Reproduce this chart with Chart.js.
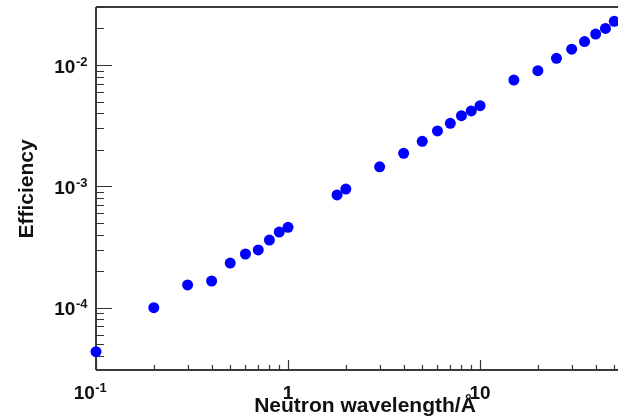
<!DOCTYPE html>
<html><head><meta charset="utf-8">
<script src="https://cdn.jsdelivr.net/npm/chart.js@4/dist/chart.umd.min.js"></script>
<style>html,body{margin:0;padding:0;background:#fff;overflow:hidden}#wrap{width:618px;height:418px;overflow:hidden}</style>
</head><body><div id="wrap"><canvas id="c" width="624" height="418"></canvas></div>
<script>
// ---- data ----
const wavelengths = [0.1, 0.2, 0.3, 0.4, 0.5, 0.6, 0.7, 0.8, 0.9, 1.0, 1.8, 2.0, 3, 4, 5, 6, 7, 8, 9, 10, 15, 20, 25, 30, 35, 40, 45, 50];
const efficiency = [4.34e-5, 1.0e-4, 1.54e-4, 1.66e-4, 2.33e-4, 2.77e-4, 2.99e-4, 3.61e-4, 4.2e-4, 4.6e-4,
  8.5e-4, 9.5e-4, 1.45e-3, 1.87e-3, 2.35e-3, 2.86e-3, 3.31e-3, 3.82e-3, 4.18e-3, 4.62e-3,
  7.52e-3, 8.98e-3, 1.135e-2, 1.35e-2, 1.56e-2, 1.8e-2, 2.0e-2, 2.29e-2];
const xMajorTicks = [0.1, 1, 10];
const xTickLabels = [['10', '-1'], ['1', ''], ['10', '']];
const yMajorTicks = [1e-4, 1e-3, 1e-2];
const yTickLabels = [['10', '-4'], ['10', '-3'], ['10', '-2']];
const xTitle = 'Neutron wavelength/Å';
const yTitle = 'Efficiency';
const xRange = [0.1, 52.6];
const yRange = [3.066e-5, 0.03006];

function minorTicks(lo, hi) {
  const out = [];
  for (let e = Math.floor(Math.log10(lo)); e <= Math.ceil(Math.log10(hi)); e++) {
    for (let m = 2; m <= 9; m++) {
      const v = m * Math.pow(10, e);
      if (v >= lo && v <= hi) out.push(v);
    }
  }
  return out;
}

const FONT = '"Liberation Sans", Arial, Helvetica, sans-serif';

function drawExpLabel(ctx, base, exp, x, yBase, align, bigSize, smallSize) {
  ctx.font = 'bold ' + bigSize + 'px ' + FONT;
  const wb = ctx.measureText(base).width;
  ctx.font = 'bold ' + smallSize + 'px ' + FONT;
  const we = exp ? ctx.measureText(exp).width : 0;
  const total = wb + we;
  let left;
  if (align === 'right') left = x - total;
  else left = x - total / 2;
  ctx.textAlign = 'left';
  ctx.textBaseline = 'alphabetic';
  ctx.font = 'bold ' + bigSize + 'px ' + FONT;
  ctx.fillText(base, left, yBase);
  if (exp) {
    ctx.font = 'bold ' + smallSize + 'px ' + FONT;
    ctx.fillText(exp, left + wb + 0.5, yBase - 7);
  }
}

const rootAxes = {
  id: 'rootAxes',
  beforeDatasetsDraw(chart) {
    const { ctx, chartArea: a, scales } = chart;
    const xs = scales.x, ys = scales.y;
    ctx.save();
    // frame lines
    ctx.strokeStyle = '#3a3a3a';
    ctx.lineWidth = 2;
    ctx.beginPath();
    ctx.moveTo(a.left, a.top); ctx.lineTo(a.right, a.top);
    ctx.moveTo(a.left, a.top); ctx.lineTo(a.left, a.bottom);
    ctx.moveTo(a.left, a.bottom); ctx.lineTo(a.right, a.bottom);
    ctx.stroke();
    // ticks
    ctx.lineWidth = 1.2;
    ctx.strokeStyle = '#333';
    ctx.beginPath();
    yMajorTicks.forEach(v => { const p = Math.round(ys.getPixelForValue(v)) + 0.5; ctx.moveTo(a.left, p); ctx.lineTo(a.left + 16, p); });
    minorTicks(yRange[0], yRange[1]).forEach(v => { const p = Math.round(ys.getPixelForValue(v)) + 0.5; ctx.moveTo(a.left, p); ctx.lineTo(a.left + 8, p); });
    xMajorTicks.forEach(v => { const p = Math.round(xs.getPixelForValue(v)) + 0.5; ctx.moveTo(p, a.bottom); ctx.lineTo(p, a.bottom - 10); });
    minorTicks(xRange[0], xRange[1]).forEach(v => { const p = Math.round(xs.getPixelForValue(v)) + 0.5; ctx.moveTo(p, a.bottom); ctx.lineTo(p, a.bottom - 5); });
    ctx.stroke();
    // tick labels
    ctx.fillStyle = '#111';
    yMajorTicks.forEach((v, i) => {
      const p = ys.getPixelForValue(v);
      drawExpLabel(ctx, yTickLabels[i][0], yTickLabels[i][1], a.left - 9, p + 7.5, 'right', 19, 13);
    });
    xMajorTicks.forEach((v, i) => {
      const p = xs.getPixelForValue(v);
      const shift = xTickLabels[i][1] ? -6 : 0;
      drawExpLabel(ctx, xTickLabels[i][0], xTickLabels[i][1], p + shift, a.bottom + 29, 'center', 19, 13);
    });
    // titles
    ctx.font = 'bold 21px ' + FONT;
    ctx.textAlign = 'center';
    ctx.textBaseline = 'alphabetic';
    ctx.fillText(xTitle, 365, 412);
    ctx.save();
    ctx.translate(33, 189);
    ctx.rotate(-Math.PI / 2);
    ctx.fillText(yTitle, 0, 0);
    ctx.restore();
    ctx.restore();
  }
};

new Chart(document.getElementById('c'), {
  type: 'scatter',
  data: {
    datasets: [{
      data: wavelengths.map((w, i) => ({ x: w, y: efficiency[i] })),
      backgroundColor: '#0000ff',
      borderColor: '#0000ff',
      borderWidth: 0,
      pointRadius: 5.5,
      pointHoverRadius: 5.5,
      clip: false
    }]
  },
  options: {
    responsive: false,
    animation: false,
    devicePixelRatio: 1,
    layout: { padding: { left: 96, top: 7, right: 0, bottom: 48 } },
    plugins: { legend: { display: false }, tooltip: { enabled: false } },
    scales: {
      x: { type: 'logarithmic', min: xRange[0], max: xRange[1], display: false },
      y: { type: 'logarithmic', min: yRange[0], max: yRange[1], display: false }
    }
  },
  plugins: [rootAxes]
});
</script>
</body></html>
